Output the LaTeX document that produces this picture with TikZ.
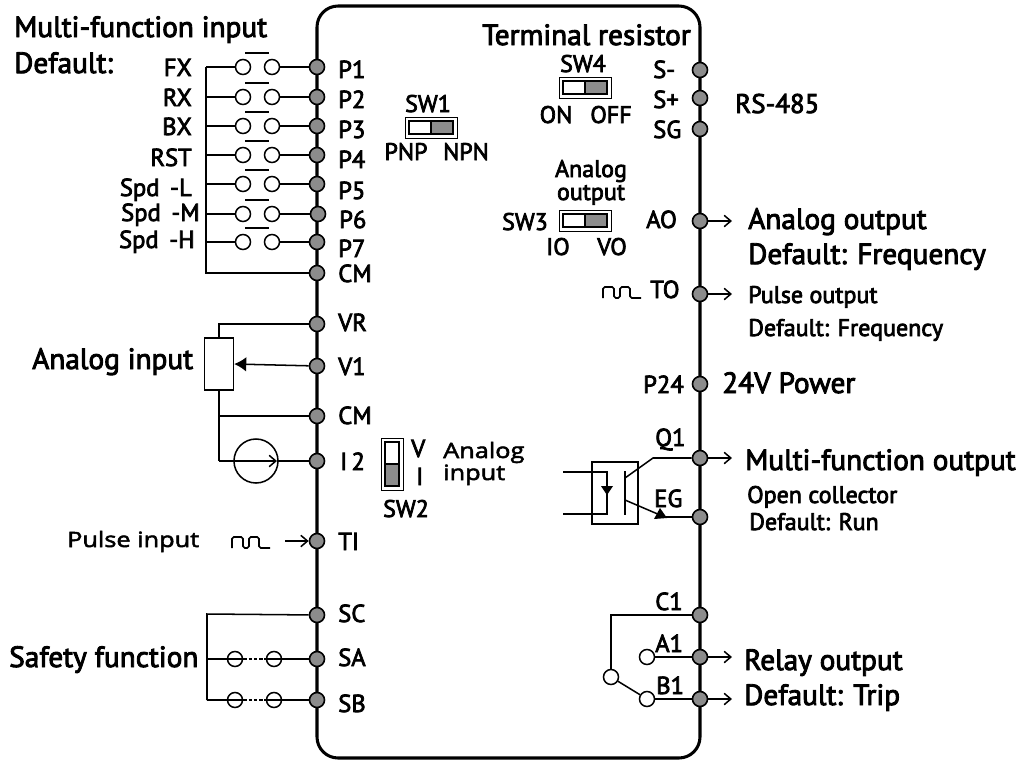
\documentclass[tikz,border=0pt]{standalone}
\usepackage{fontspec}
\usetikzlibrary{arrows.meta}
\setmainfont{PT Sans}[FakeBold=3]
\newfontfamily\widefont{Open Sans}[FakeBold=2.5,FakeStretch=1.2]
\definecolor{termgray}{HTML}{8C8C8C}
\tikzset{
	>={Straight Barb[length=2mm,width=3.4mm]},
	term/.style={circle,draw,line width=1.4,fill=termgray,inner sep=0,minimum size=4.5mm},
	contact/.style={circle,draw,line width=1.3,fill=white,inner sep=0,minimum size=4.5mm},
	ring/.style={circle,draw,line width=1.3,inner sep=0,minimum size=4.5mm},
	wire/.style={line width=1.3},
	lab/.style={inner sep=0,anchor=base west,font=\fontsize{21}{21}\selectfont},
	labr/.style={inner sep=0,anchor=base east,font=\fontsize{21}{21}\selectfont},
	labc/.style={inner sep=0,anchor=base,font=\fontsize{20.5}{21}\selectfont},
	big/.style={inner sep=0,anchor=base west,font=\fontsize{25}{25}\selectfont},
	mid/.style={inner sep=0,anchor=base west,font=\fontsize{20.5}{21}\selectfont},
	wide/.style={inner sep=0,anchor=base west,font=\fontsize{18}{18}\selectfont\widefont},
}
\begin{document}
\begin{tikzpicture}[x=.3mm,y=-.3mm]%  drive control terminals
		\useasboundingbox (0,0) rectangle (1022,761);
		\draw[line width=2.6,rounded corners=18] (317,6) rectangle (700,758);
		
		% left terminals
		\foreach \t/\x/\y in {P1/317/67,P2/317/97,P3/317/126,P4/317/155,P5/317/184,P6/318/214,P7/317/242,CMa/317/273,VR/317/324,Vone/317/366,CMb/317/416,Itwo/317/461,TI/317/541,SC/317/615,SA/317/659,SB/317/700}
		\node[term] (\t) at (\x,\y) {};
		\foreach \t/\tx/\by/\s in {P1/338/78/P1,P2/338/108/P2,P3/338/138/P3,P4/338/168/P4,P5/338/199/P5,P6/339/228/P6,P7/338/257/P7,CMa/338/282/CM,VR/338/331/VR,Vone/338/375/V1,CMb/338/424/CM,Itwo/340/470/I\,2,TI/338/550/TI,SC/338/622/SC,SA/338/666/SA,SB/338/712/SB}
		\node[lab] (l\t) at (\tx,\by) {\s};
		
		% right terminals
		\foreach \t/\y in {Sm/70,Sp/98,SG/129,AO/221,TO/294,Ptf/384,Qone/458,EG/517,Cone/615,Aone/657,Bone/699}
		\node[term] (\t) at (700,\y) {};
		\foreach \t/\tx/\by/\s in {Sm/653/78/S-,Sp/653/108/S+,SG/653/138/SG,AO/646/228/AO,TO/650/298/TO,Ptf/643/393/P24,Qone/655/446/Q1,EG/654/507/EG,Cone/655/610/C1,Aone/655/652/A1,Bone/656/694/B1}
		\node[lab] (l\t) at (\tx,\by) {\s};
		
		% multi-function contacts
		\foreach \i/\t/\y/\bx/\by/\s in {1/P1/67/192/76/FX,2/P2/97/192/106/RX,3/P3/126/192/135/BX,4/P4/155/192/166/RST,5/P5/184/192/196/Spd\,\ -L,6/P6/214/200/221/Spd\,\ -M,7/P7/242/195/248/Spd\,\ -H}{
			\coordinate (bus\i) at (206,\y);
			\node[contact] (ca\i) at (243,\y) {};
			\node[contact] (cb\i) at (272,\y) {};
			\draw[wire] (bus\i)--(ca\i) (cb\i)--(\t);
			\draw[wire] (245,\y-14)--(269,\y-14);
			\node[labr] (f\i) at (\bx,\by) {\s};
		}
		\draw[wire] (bus1)--(206,273)--(CMa);
		
		% analog input
		\node[draw,line width=1.3,fill=white,minimum width=8.7mm,minimum height=15.6mm,inner sep=0] (pot) at (219,364) {};
		\coordinate (vrc) at (219,324);
		\coordinate (cmc) at (219,416);
		\coordinate (ic) at (219,461);
		\draw[wire] (VR)--(vrc)--(pot.north);
		\draw[wire] (pot.south)--(ic);
		\draw[wire] (cmc)--(CMb);
		\draw[wire,-{Latex[length=3.6mm,width=4.4mm]}] (Vone)--(pot.east);
		\node[circle,draw,line width=1.3,minimum size=13.2mm,inner sep=0] (src) at (256,461) {};
		\coordinate (srctip) at (277,461);
		\draw[wire,->] (ic)--(srctip);
		\draw[wire] (srctip)--(Itwo);
		
		% pulse signs
		\foreach \x/\y in {232/548,603/298}
		\draw[wire,rounded corners=1.5,shift={(\x,\y)}] (0,0)--(0,-11)--(11,-11)--(11,0)--(17,0)--(17,-11)--(27,-11)--(27,0)--(38,0);
		\coordinate (pin) at (285,541);
		\draw[wire,->] (pin)--(TI);
		
		% safety
		\coordinate (sbus) at (207,614);
		\draw[wire] (SC)--(sbus)--(207,700);
		\foreach \t/\y/\i in {SA/659/1,SB/700/2}{
			\node[ring] (sa\i) at (235,\y) {};
			\node[ring] (sb\i) at (274,\y) {};
			\coordinate (sc\i) at (207,\y);
			\draw[wire] (sc\i)--(\t);
			\draw[line width=1.4,white] (sa\i)--(sb\i);
			\draw[line width=1.3,dash pattern=on 3pt off 1.5pt] (sa\i)--(sb\i);
		}
		
		% switches
		\foreach \x/\y in {405/117,559/77,559/210}{
			\draw[line width=.8,shift={(\x,\y)}] (0,0) rectangle (52,21);
			\draw[line width=1.1,fill=white,shift={(\x,\y)}] (4,4) rectangle (26,17);
			\draw[line width=1.1,fill=termgray,shift={(\x,\y)}] (26,4) rectangle (48,17);
		}
		\draw[line width=.8] (381,438) rectangle (403,490);
		\draw[line width=1.1,fill=white] (385,442) rectangle (399,464);
		\draw[line width=1.1,fill=termgray] (385,464) rectangle (399,486);
		
		% opto
		\node[draw,line width=1.3,minimum width=13.8mm,minimum height=18.6mm,inner sep=0] (opto) at (615,493) {};
		\coordinate (ina) at (563,472);
		\coordinate (inb) at (563,514);
		\draw[wire] (ina)--(607,472)--(607,514)--(inb);
		\fill (601,486)--(613,486)--(607,495)--cycle;
		\draw[line width=1.4] (625,471)--(625,515);
		\draw[wire] (625,478)--(653,458)--(Qone);
		\draw[wire] (625,500)--(660,515);
		\draw[wire] (660,517)--(EG);
		\fill (654,519)--(667,518)--(660,508)--cycle;
		
		% relay
		\node[contact] (rc) at (611,677) {};
		\node[contact] (ra) at (647,657) {};
		\node[contact] (rb) at (647,699) {};
		\coordinate (rcc) at (611,615);
		\draw[wire] (Cone)--(rcc)--(rc);
		\draw[wire] (ra)--(Aone);
		\draw[wire] (rb)--(Bone);
		\draw[wire] (rc)--(rb);
		
		% out arrows
		\foreach \t/\y in {AO/221,TO/294,Qone/458,Aone/657,Bone/699}{
			\coordinate (out\t) at (732,\y);
			\draw[wire,->] (\t)--(out\t);
		}
		
		% texts
		\node[big] (tma) at (14,37) {Multi-function input};
		\node[big] (tmb) at (14,73) {Default:};
		\node[big] (tan) at (32,369) {Analog input};
		\node[wide] (tpu) at (67,547) {Pulse input};
		\node[big] (tsa) at (9,667) {Safety function};
		\node[labc] (tsw1) at (428,112) {SW1};
		\node[labc] (tpnp) at (406,160) {PNP};
		\node[labc] (tnpn) at (466,160) {NPN};
		\node[lab] (tv) at (411,457) {V};
		\node[lab] (ti) at (416,485) {I};
		\node[wide] (tana) at (443,458) {Analog};
		\node[wide] (tanb) at (443,480) {input};
		\node[labc] (tsw2) at (406,517) {SW2};
		\node[big] (ttr) at (482,45) {Terminal resistor};
		\node[labc] (tsw4) at (583,72) {SW4};
		\node[labc] (ton) at (556,123) {ON};
		\node[labc] (toff) at (611,123) {OFF};
		\node[labc] (tao) at (591,177) {Analog};
		\node[labc] (tap) at (591,200) {output};
		\node[labc] (tsw3) at (525,230) {SW3};
		\node[labc] (tio) at (558,255) {IO};
		\node[labc] (tvo) at (612,255) {VO};
		\node[big,font=\fontsize{23}{23}\selectfont] (trs) at (735,113) {RS-485};
		\node[big] (taa) at (748,229) {Analog output};
		\node[big] (tab) at (748,264) {Default: Frequency};
		\node[mid] (tpa) at (748,303) {Pulse output};
		\node[mid] (tpb) at (748,336) {Default: Frequency};
		\node[big] (tpw) at (722,393) {24V Power};
		\node[big] (tmo) at (745,470) {Multi-function output};
		\node[mid] (toa) at (747,503) {Open collector};
		\node[mid] (tob) at (749,530) {Default: Run};
		\node[big] (tra) at (744,670) {Relay output};
		\node[big] (trb) at (744,705) {Default: Trip};
		\end{tikzpicture}
\end{document}
